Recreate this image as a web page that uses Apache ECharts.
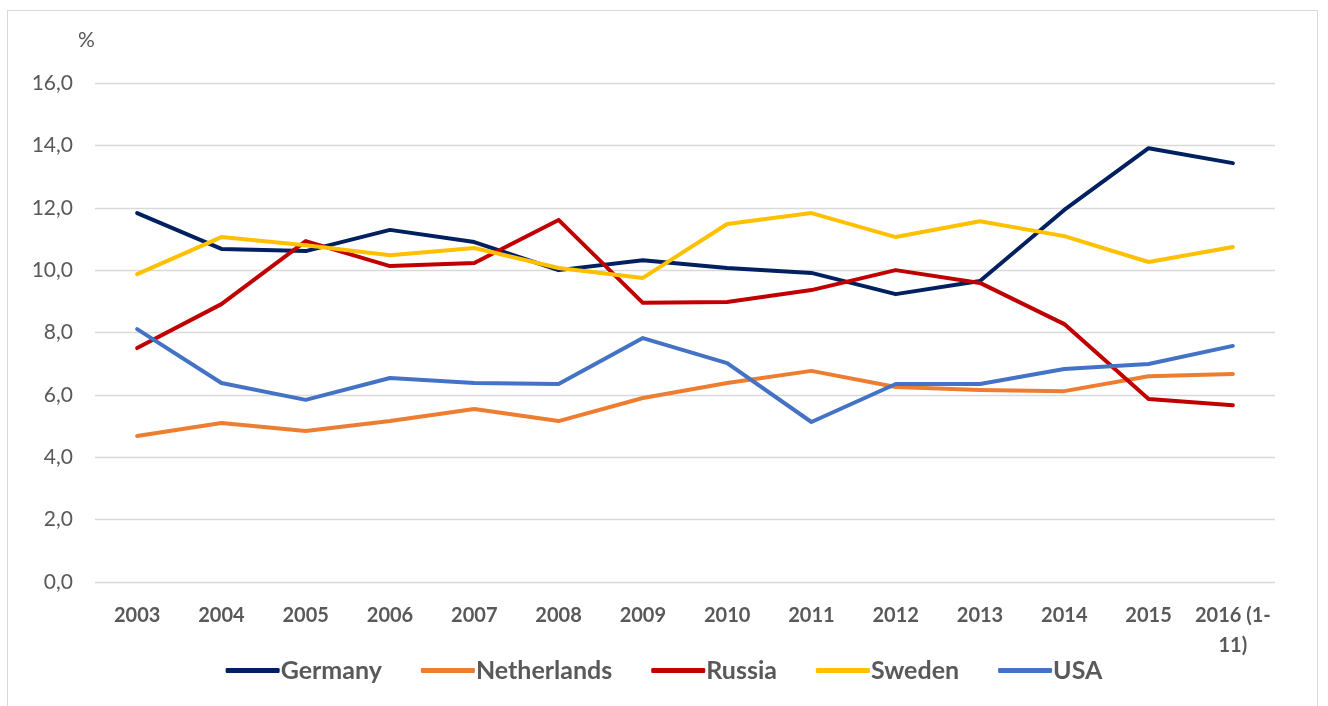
<!DOCTYPE html>
<html>
<head>
<meta charset="utf-8">
<script src="https://cdn.jsdelivr.net/npm/echarts@6/dist/echarts.min.js"></script>
<style>
  html, body { margin: 0; padding: 0; background: #fff; }
  #frame { position: absolute; left: 7px; top: 10px; width: 1311px; height: 700px; border: 1px solid #d9d9d9; box-sizing: border-box; }
  #chart1 { width: 1328px; height: 706px; }
</style>
</head>
<body>
<div id="frame"></div>
<div id="chart1"></div>
<script>
    // годы по оси X
    var years = ['2003', '2004', '2005', '2006', '2007', '2008', '2009', '2010',
                 '2011', '2012', '2013', '2014', '2015', '2016 (1-\n11)'];
    // значения по странам, %
    var germany     = [11.83, 10.68, 10.61, 11.29, 10.90, 10.00, 10.32, 10.07, 9.91, 9.23, 9.65, 11.93, 13.91, 13.43];
    var netherlands = [4.68, 5.10, 4.84, 5.16, 5.55, 5.16, 5.90, 6.38, 6.77, 6.25, 6.16, 6.12, 6.60, 6.67];
    var russia      = [7.50, 8.91, 10.93, 10.13, 10.23, 11.61, 8.95, 8.98, 9.36, 10.00, 9.59, 8.27, 5.87, 5.67];
    var sweden      = [9.87, 11.06, 10.80, 10.48, 10.71, 10.07, 9.75, 11.48, 11.83, 11.06, 11.57, 11.09, 10.26, 10.74];
    var usa         = [8.11, 6.38, 5.84, 6.54, 6.38, 6.35, 7.82, 7.02, 5.13, 6.35, 6.35, 6.83, 6.99, 7.57];

    var chartDom = document.getElementById('chart1');
    var myChart = echarts.init(chartDom);

    var mkLine = function(name, data, color) {
        return {
            name: name,
            type: 'line',
            data: data,
            symbol: 'none',
            lineStyle: { width: 4, color: color, cap: 'round', join: 'round' },
            itemStyle: { color: color }
        };
    };

    var option = {
        animation: false,
        textStyle: { fontFamily: 'Lato, "Open Sans", sans-serif' },
        grid: { left: 95, right: 53, top: 83, bottom: 124 },
        title: {
            text: '%', left: 73, top: 25,
            textStyle: { fontSize: 21, fontWeight: 'normal', color: '#595959', fontFamily: 'Lato, sans-serif' }
        },
        legend: {
            bottom: 18, left: 'center',
            itemWidth: 54, itemHeight: 5, itemGap: 39,
            icon: 'roundRect',
            textStyle: { fontSize: 25, fontWeight: 'bold', color: '#595959', padding: [0, 0, 0, -4] },
            data: ['Germany', 'Netherlands', 'Russia', 'Sweden', 'USA']
        },
        xAxis: {
            type: 'category',
            data: years,
            axisLine: { show: false },
            axisTick: { show: false },
            axisLabel: { fontSize: 20, fontWeight: 'bold', color: '#595959', margin: 19, lineHeight: 30, interval: 0 }
        },
        yAxis: {
            type: 'value',
            min: 0, max: 16, interval: 2,
            axisLine: { show: false },
            axisTick: { show: false },
            splitLine: { lineStyle: { color: '#d9d9d9', width: 1.3 } },
            axisLabel: {
                fontSize: 21, color: '#595959', margin: 22,
                formatter: function(v) { return v.toFixed(1).replace('.', ','); }
            }
        },
        series: [
            mkLine('Germany', germany, '#002060'),
            mkLine('Netherlands', netherlands, '#ED7D31'),
            mkLine('Russia', russia, '#C00000'),
            mkLine('Sweden', sweden, '#FFC000'),
            mkLine('USA', usa, '#4472C4')
        ]
    };
    option && myChart.setOption(option);
</script>
</body>
</html>
